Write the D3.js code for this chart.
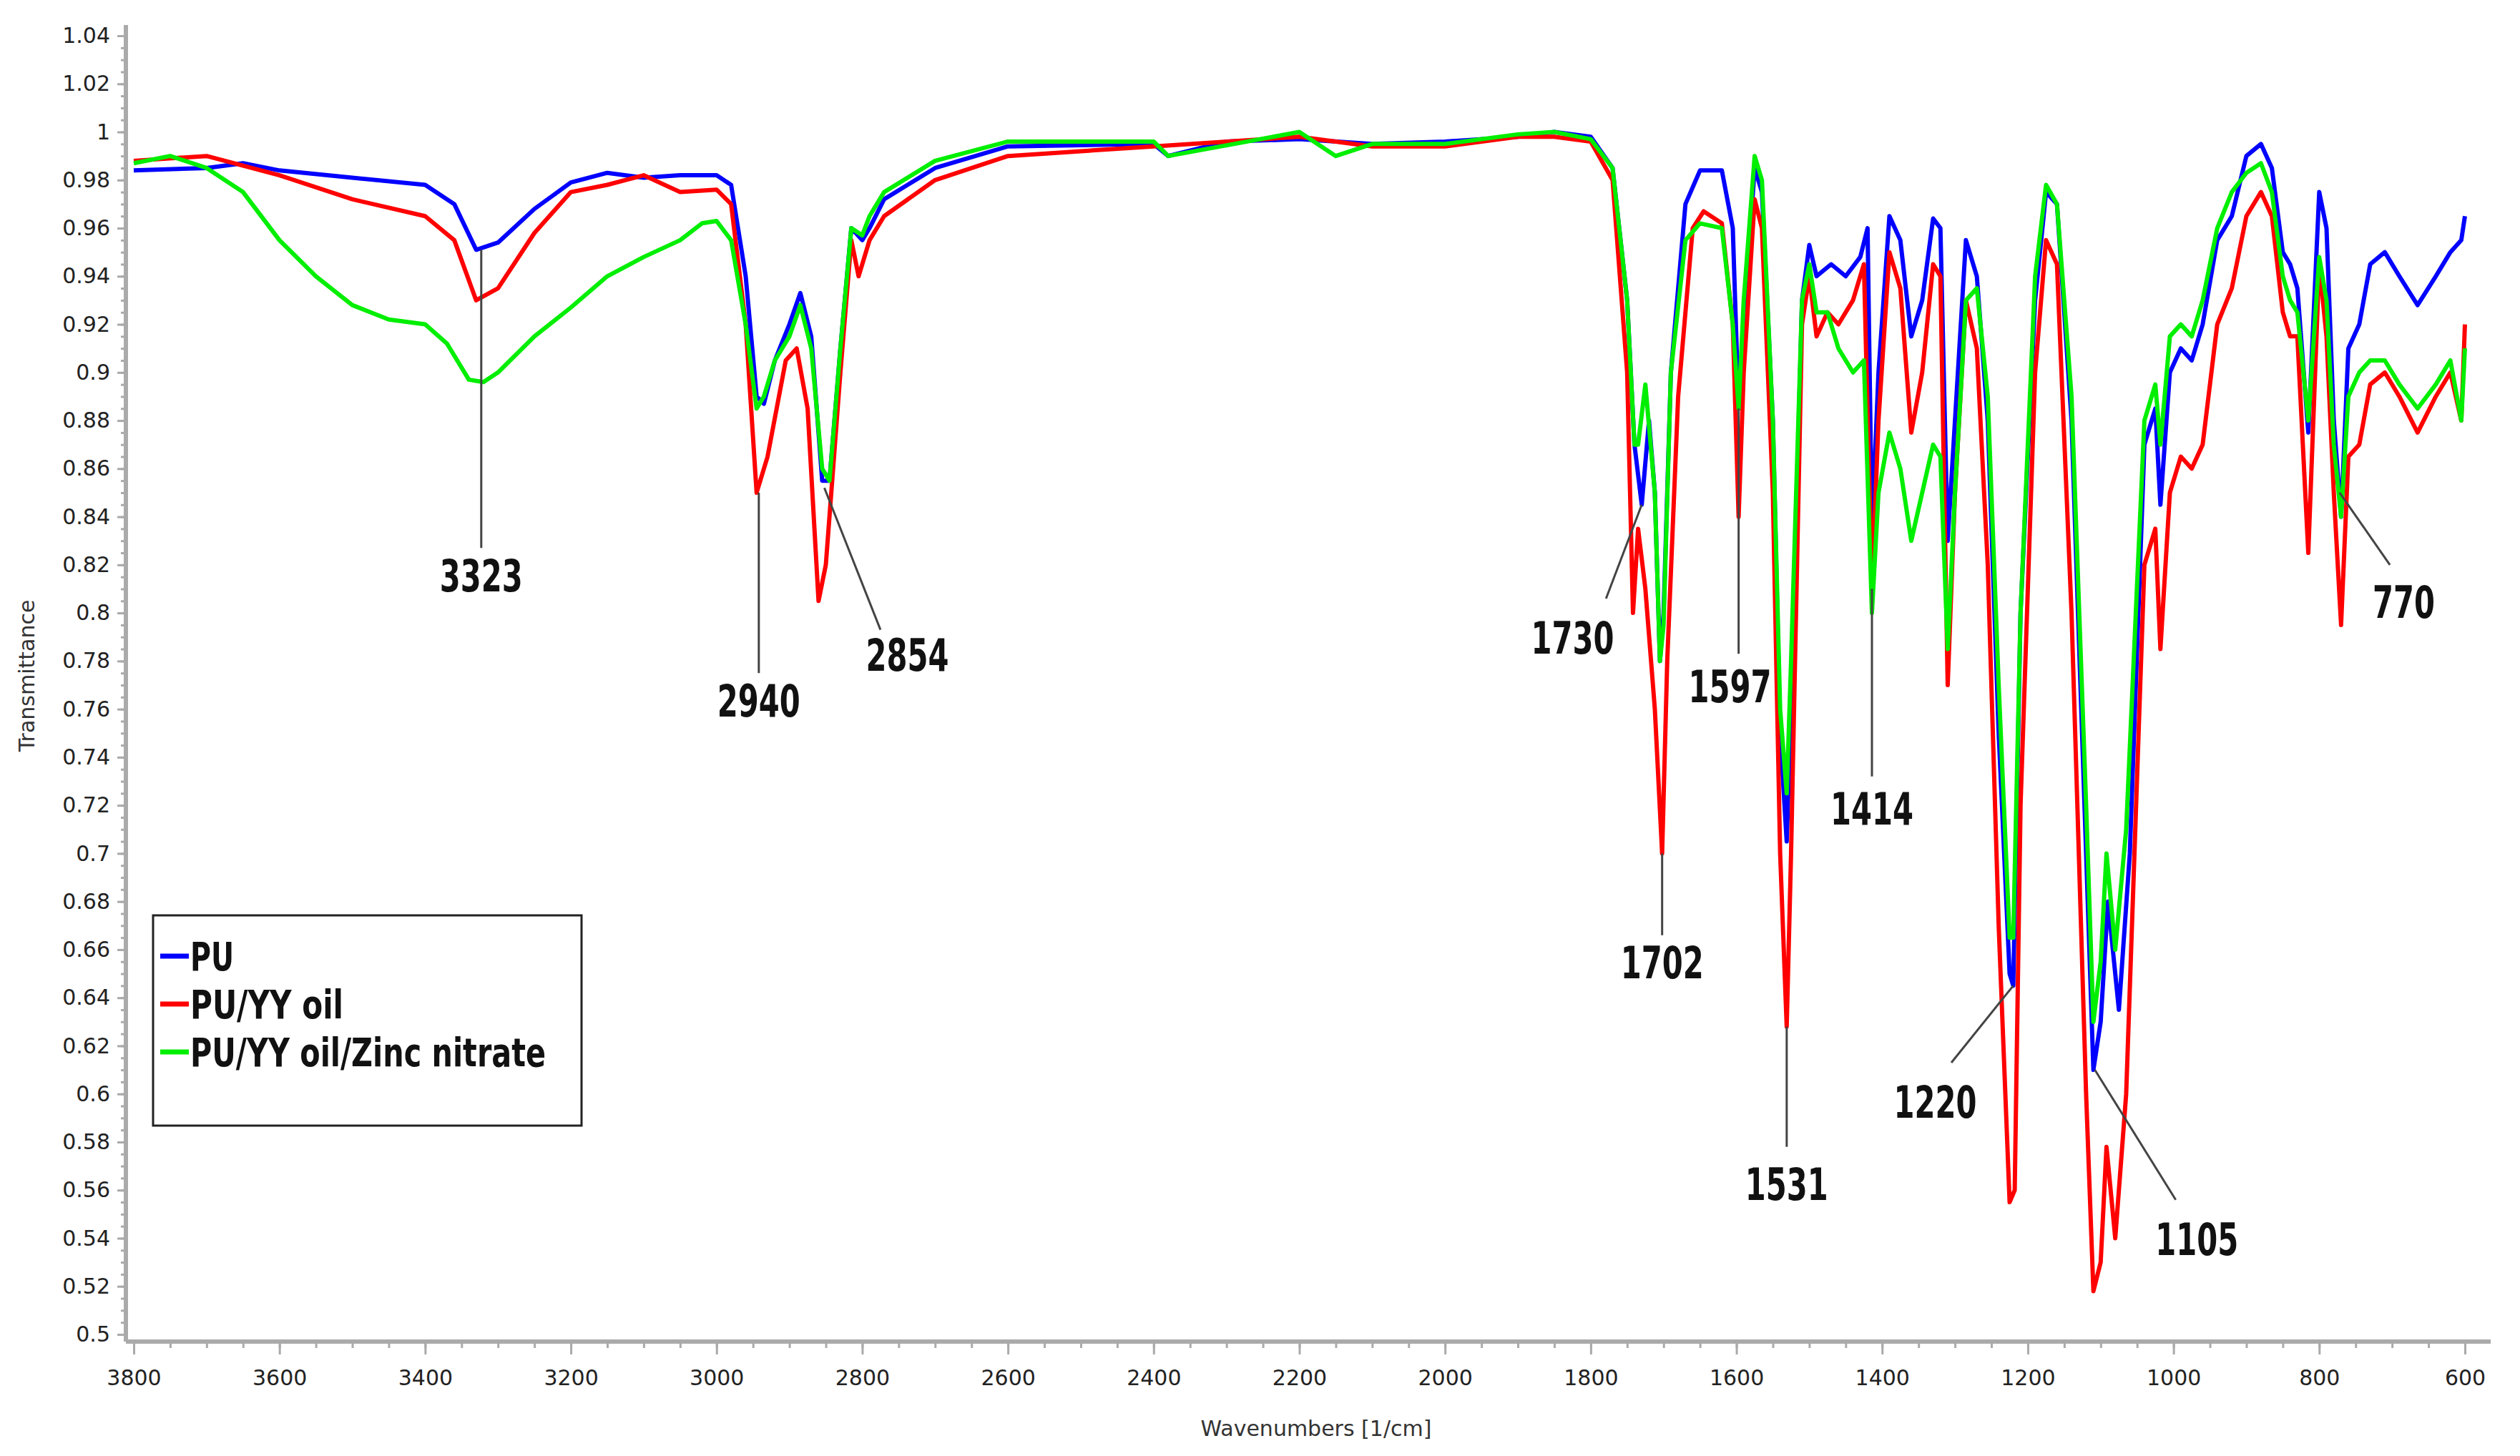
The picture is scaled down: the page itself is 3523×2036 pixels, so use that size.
<!DOCTYPE html>
<html>
<head>
<meta charset="utf-8">
<script src="https://cdn.jsdelivr.net/npm/d3@7"></script>
<style>
  body { margin: 0; background: #fff; }
  .tick text { font: 30px "DejaVu Sans", sans-serif; fill: #222; }
  .peak { font: bold 62px "Liberation Sans Narrow", "DejaVu Sans Condensed", sans-serif; fill: #111; }
  .leg { font: bold 56px "Liberation Sans Narrow", "DejaVu Sans Condensed", sans-serif; fill: #111; }
</style>
</head>
<body>
<svg id="chart"></svg>
<script>
// [wavenumber, transmittance]
const puData = [
  [3800,0.984],[3700,0.985],[3650,0.987],[3600,0.984],[3500,0.981],[3400,0.978],[3360,0.97],[3330,0.951],[3300,0.954],
  [3250,0.968],[3200,0.979],[3150,0.983],[3100,0.981],[3050,0.982],[3000,0.982],[2980,0.978],[2960,0.94],[2945,0.89],
  [2935,0.887],[2920,0.905],[2900,0.92],[2885,0.933],[2870,0.915],[2855,0.855],[2845,0.855],[2830,0.91],[2815,0.96],
  [2800,0.955],[2790,0.96],[2770,0.972],[2700,0.985],[2600,0.994],[2400,0.995],[2380,0.99],[2300,0.996],[2200,0.997],
  [2100,0.995],[2000,0.996],[1900,0.998],[1850,1.0],[1800,0.998],[1770,0.985],[1750,0.93],[1740,0.87],[1730,0.845],
  [1720,0.88],[1712,0.85],[1705,0.78],[1700,0.8],[1690,0.9],[1670,0.97],[1650,0.984],[1620,0.984],[1605,0.96],
  [1597,0.885],[1590,0.92],[1575,0.985],[1565,0.975],[1550,0.88],[1540,0.75],[1531,0.705],[1525,0.76],[1510,0.93],
  [1500,0.953],[1490,0.94],[1470,0.945],[1450,0.94],[1430,0.948],[1420,0.96],[1414,0.835],[1405,0.9],[1390,0.965],
  [1375,0.955],[1360,0.915],[1345,0.93],[1330,0.964],[1320,0.96],[1310,0.83],[1300,0.88],[1285,0.955],[1270,0.94],
  [1255,0.88],[1240,0.75],[1225,0.65],[1220,0.645],[1210,0.8],[1190,0.93],[1175,0.975],[1160,0.97],[1140,0.88],
  [1120,0.7],[1110,0.61],[1100,0.63],[1090,0.68],[1075,0.635],[1060,0.7],[1040,0.87],[1025,0.885],[1018,0.845],
  [1005,0.9],[990,0.91],[975,0.905],[960,0.92],[940,0.955],[920,0.965],[900,0.99],[880,0.995],[865,0.985],[850,0.95],
  [840,0.945],[830,0.935],[815,0.875],[800,0.975],[790,0.96],[780,0.88],[770,0.84],[760,0.91],[745,0.92],[730,0.945],
  [710,0.95],[690,0.94],[665,0.928],[640,0.94],[620,0.95],[605,0.955],[600,0.965]
];
const oilData = [
  [3800,0.988],[3700,0.99],[3600,0.982],[3500,0.972],[3400,0.965],[3360,0.955],[3330,0.93],[3300,0.935],[3250,0.958],
  [3200,0.975],[3150,0.978],[3100,0.982],[3050,0.975],[3000,0.976],[2980,0.97],[2960,0.92],[2945,0.85],[2930,0.865],
  [2905,0.905],[2890,0.91],[2875,0.885],[2860,0.805],[2850,0.82],[2830,0.9],[2815,0.955],[2805,0.94],[2790,0.955],
  [2770,0.965],[2700,0.98],[2600,0.99],[2400,0.994],[2200,0.998],[2100,0.994],[2000,0.994],[1900,0.998],[1850,0.998],
  [1800,0.996],[1770,0.98],[1750,0.9],[1742,0.8],[1735,0.835],[1725,0.81],[1712,0.76],[1702,0.70],[1695,0.78],
  [1680,0.89],[1660,0.96],[1645,0.967],[1620,0.962],[1605,0.92],[1597,0.84],[1590,0.9],[1575,0.972],[1565,0.96],
  [1550,0.85],[1540,0.7],[1531,0.628],[1525,0.7],[1510,0.92],[1500,0.94],[1490,0.915],[1475,0.925],[1460,0.92],
  [1440,0.93],[1425,0.945],[1414,0.81],[1405,0.88],[1390,0.95],[1375,0.935],[1360,0.875],[1345,0.9],[1330,0.945],
  [1320,0.94],[1310,0.77],[1300,0.85],[1285,0.93],[1270,0.91],[1255,0.82],[1240,0.67],[1225,0.555],[1218,0.56],
  [1210,0.72],[1190,0.9],[1175,0.955],[1160,0.945],[1140,0.8],[1120,0.6],[1110,0.518],[1100,0.53],[1092,0.578],
  [1080,0.54],[1065,0.6],[1040,0.82],[1025,0.835],[1018,0.785],[1005,0.85],[990,0.865],[975,0.86],[960,0.87],
  [940,0.92],[920,0.935],[900,0.965],[880,0.975],[865,0.965],[850,0.925],[840,0.915],[830,0.915],[815,0.825],
  [800,0.945],[790,0.915],[780,0.85],[770,0.795],[760,0.865],[745,0.87],[730,0.895],[710,0.9],[690,0.89],[665,0.875],
  [640,0.89],[620,0.9],[605,0.88],[600,0.92]
];
const zincData = [
  [3800,0.987],[3750,0.99],[3700,0.985],[3650,0.975],[3600,0.955],[3550,0.94],[3500,0.928],[3450,0.922],[3400,0.92],
  [3370,0.912],[3340,0.897],[3320,0.896],[3300,0.9],[3250,0.915],[3200,0.927],[3150,0.94],[3100,0.948],[3050,0.955],
  [3020,0.962],[3000,0.963],[2980,0.955],[2960,0.92],[2945,0.885],[2935,0.89],[2920,0.905],[2900,0.915],[2885,0.928],
  [2870,0.91],[2855,0.86],[2845,0.855],[2830,0.91],[2815,0.96],[2800,0.957],[2790,0.965],[2770,0.975],[2700,0.988],
  [2600,0.996],[2400,0.996],[2380,0.99],[2200,1.0],[2150,0.99],[2100,0.995],[2000,0.995],[1900,0.999],[1850,1.0],
  [1800,0.997],[1770,0.985],[1750,0.93],[1740,0.87],[1735,0.87],[1725,0.895],[1712,0.85],[1705,0.78],[1700,0.795],
  [1690,0.9],[1670,0.955],[1650,0.962],[1620,0.96],[1605,0.92],[1597,0.885],[1590,0.93],[1575,0.99],[1565,0.98],
  [1550,0.88],[1540,0.76],[1531,0.725],[1525,0.78],[1510,0.93],[1500,0.945],[1490,0.925],[1475,0.925],[1460,0.91],
  [1440,0.9],[1425,0.905],[1414,0.8],[1405,0.85],[1390,0.875],[1375,0.86],[1360,0.83],[1345,0.85],[1330,0.87],
  [1320,0.865],[1310,0.785],[1300,0.85],[1285,0.93],[1270,0.935],[1255,0.89],[1240,0.77],[1225,0.665],[1220,0.665],
  [1210,0.8],[1190,0.94],[1175,0.978],[1160,0.97],[1140,0.89],[1120,0.72],[1110,0.63],[1100,0.655],[1092,0.7],
  [1080,0.66],[1065,0.71],[1040,0.88],[1025,0.895],[1018,0.87],[1005,0.915],[990,0.92],[975,0.915],[960,0.93],
  [940,0.96],[920,0.975],[900,0.983],[880,0.987],[865,0.975],[850,0.94],[840,0.93],[830,0.925],[815,0.88],
  [800,0.948],[790,0.93],[780,0.87],[770,0.84],[760,0.89],[745,0.9],[730,0.905],[710,0.905],[690,0.895],[665,0.885],
  [640,0.895],[620,0.905],[605,0.88],[600,0.91]
];
const seriesNames = ["PU", "PU/YY oil", "PU/YY oil/Zinc nitrate"];
const seriesColors = ["#0000ff", "#ff0000", "#00ee00"];
const legendTextWidths = [61, 214, 497];

// peak label: [label, lineFromWn, lineFromT, lineToWn, lineToT, textWn, textT]
const peaks = [
  ["3323", 3323, 0.951, 3323, 0.827, 3323, 0.809],
  ["2940", 2942, 0.85, 2942, 0.775, 2942, 0.757],
  ["2854", 2852, 0.852, 2775, 0.793, 2738, 0.776],
  ["1730", 1730, 0.845, 1779, 0.806, 1825, 0.783],
  ["1702", 1702, 0.70, 1702, 0.666, 1702, 0.648],
  ["1597", 1597, 0.885, 1597, 0.783, 1609, 0.763],
  ["1531", 1531, 0.628, 1531, 0.578, 1531, 0.556],
  ["1414", 1414, 0.81, 1414, 0.732, 1414, 0.712],
  ["1220", 1220, 0.645, 1305, 0.613, 1327, 0.590],
  ["1105", 1108, 0.61, 997, 0.556, 968, 0.533],
  ["770", 772, 0.85, 703, 0.82, 684, 0.798]
];

const W = 3523, H = 2036;
const svg = d3.select("#chart").attr("width", W).attr("height", H);

const x = d3.scaleLinear().domain([3800, 600]).range([187, 3446]);
const y = d3.scaleLinear().domain([0.5, 1.04]).range([1866, 50]);
const axisX = 176, axisY = 1876;

// axes
const gy = svg.append("g").attr("transform", `translate(${axisX},0)`);
gy.call(d3.axisLeft(y).tickValues(d3.range(0.5, 1.0401, 0.02)).tickSize(12).tickPadding(10)
  .tickFormat(d => d3.format("~g")(+d.toFixed(2))));
gy.append("g").call(d3.axisLeft(y).tickValues(d3.range(0.5, 1.0401, 0.005)).tickSize(7).tickFormat(""));
gy.selectAll("path").attr("d", `M0,35V${axisY}`);

const gx = svg.append("g").attr("transform", `translate(0,${axisY})`);
gx.call(d3.axisBottom(x).tickValues(d3.range(600, 3801, 200)).tickSize(18).tickPadding(22).tickFormat(d3.format("d")));
gx.append("g").call(d3.axisBottom(x).tickValues(d3.range(600, 3801, 50)).tickSize(9).tickFormat(""));
gx.selectAll("path").attr("d", `M${axisX},0H3482`);

svg.selectAll(".domain").attr("stroke", "#aaa").attr("stroke-width", 6);
svg.selectAll(".tick line").attr("stroke", "#aaa").attr("stroke-width", 3);

svg.append("text").attr("x", 1840).attr("y", 2008).attr("text-anchor", "middle")
  .style("font", "30px 'DejaVu Sans', sans-serif").attr("fill", "#333").text("Wavenumbers [1/cm]");
svg.append("text").attr("transform", "translate(48,945) rotate(-90)").attr("text-anchor", "middle")
  .style("font", "30px 'DejaVu Sans', sans-serif").attr("fill", "#333").text("Transmittance");

// spectra
const line = d3.line().x(d => x(d[0])).y(d => y(d[1]));
[puData, oilData, zincData].forEach((data, i) => {
  svg.append("path").datum(data).attr("d", line).attr("fill", "none")
    .attr("stroke", seriesColors[i]).attr("stroke-width", 6).attr("stroke-linejoin", "round");
});

// peak annotations
peaks.forEach(p => {
  svg.append("line").attr("x1", x(p[1])).attr("y1", y(p[2])).attr("x2", x(p[3])).attr("y2", y(p[4]))
    .attr("stroke", "#444").attr("stroke-width", 3);
  svg.append("text").attr("class", "peak").attr("x", x(p[5])).attr("y", y(p[6]))
    .attr("text-anchor", "middle").attr("textLength", p[0].length * 29)
    .attr("lengthAdjust", "spacingAndGlyphs").text(p[0]);
});

// legend
const leg = svg.append("g");
leg.append("rect").attr("x", 214).attr("y", 1280).attr("width", 599).attr("height", 294)
  .attr("fill", "#fff").attr("stroke", "#222").attr("stroke-width", 3);
seriesNames.forEach((n, i) => {
  const yy = 1337 + i * 67;
  leg.append("line").attr("x1", 224).attr("x2", 264).attr("y1", yy).attr("y2", yy)
    .attr("stroke", seriesColors[i]).attr("stroke-width", 7);
  leg.append("text").attr("class", "leg").attr("x", 266).attr("y", yy + 20)
    .attr("textLength", legendTextWidths[i]).attr("lengthAdjust", "spacingAndGlyphs").text(n);
});
</script>
</body>
</html>
